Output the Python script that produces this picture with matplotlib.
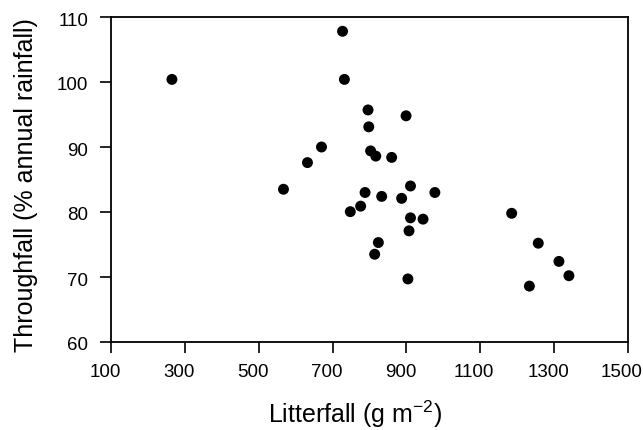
import matplotlib
matplotlib.use("Agg")
import matplotlib.pyplot as plt
from matplotlib.transforms import ScaledTranslation

litterfall = [265, 727, 732, 796, 798, 899, 670, 632, 803, 817, 860, 567, 788, 833,
              748, 776, 824, 814, 911, 977, 887, 911, 945, 907, 904, 1185, 1257,
              1313, 1340, 1233]
throughfall = [100.4, 107.8, 100.4, 95.7, 93.1, 94.8, 90.0, 87.6, 89.4, 88.6, 88.4,
               83.5, 83.0, 82.4, 80.05, 80.9, 75.3, 73.5, 84.0, 83.0, 82.1, 79.1,
               78.9, 77.1, 69.7, 79.8, 75.2, 72.4, 70.2, 68.6]
xticks = [100, 300, 500, 700, 900, 1100, 1300, 1500]
yticks = [60, 70, 80, 90, 100, 110]

plt.rcParams['font.family'] = ['Liberation Sans', 'DejaVu Sans']

fig = plt.figure(figsize=(6.43, 4.30), dpi=100)
ax = fig.add_axes([111/643, 1-342/430, (628-111)/643, (342-17)/430])
ax.scatter(litterfall, throughfall, s=62, color='black', edgecolors='none', zorder=3)
ax.set_xlim(100, 1500)
ax.set_ylim(60, 110)
ax.set_xticks(xticks)
ax.set_yticks(yticks)
ax.tick_params(direction='out', length=8, width=1.2, labelsize=13.5, color='black')
ax.tick_params(axis='x', pad=8)
ax.tick_params(axis='y', pad=8.5)
for s in ax.spines.values():
    s.set_linewidth(1.3)

xoff = ScaledTranslation(-6/100, 0, fig.dpi_scale_trans)
for lab in ax.get_xticklabels():
    lab.set_transform(lab.get_transform() + xoff)
yoff = ScaledTranslation(0, -2/100, fig.dpi_scale_trans)
for lab in ax.get_yticklabels():
    lab.set_transform(lab.get_transform() + yoff)

ax.set_xlabel('Litterfall (g m$^{\\mathregular{-2}}$)', fontsize=18)
ax.xaxis.label.set_va('baseline')
ax.xaxis.set_label_coords((355-111)/517, (342-423)/325)
ax.set_ylabel('Throughfall (% annual rainfall)', fontsize=18)
ax.yaxis.label.set_va('baseline')
ax.yaxis.set_label_coords((33-111)/517, (342-185)/325)
fig.savefig('out.png', dpi=100)
